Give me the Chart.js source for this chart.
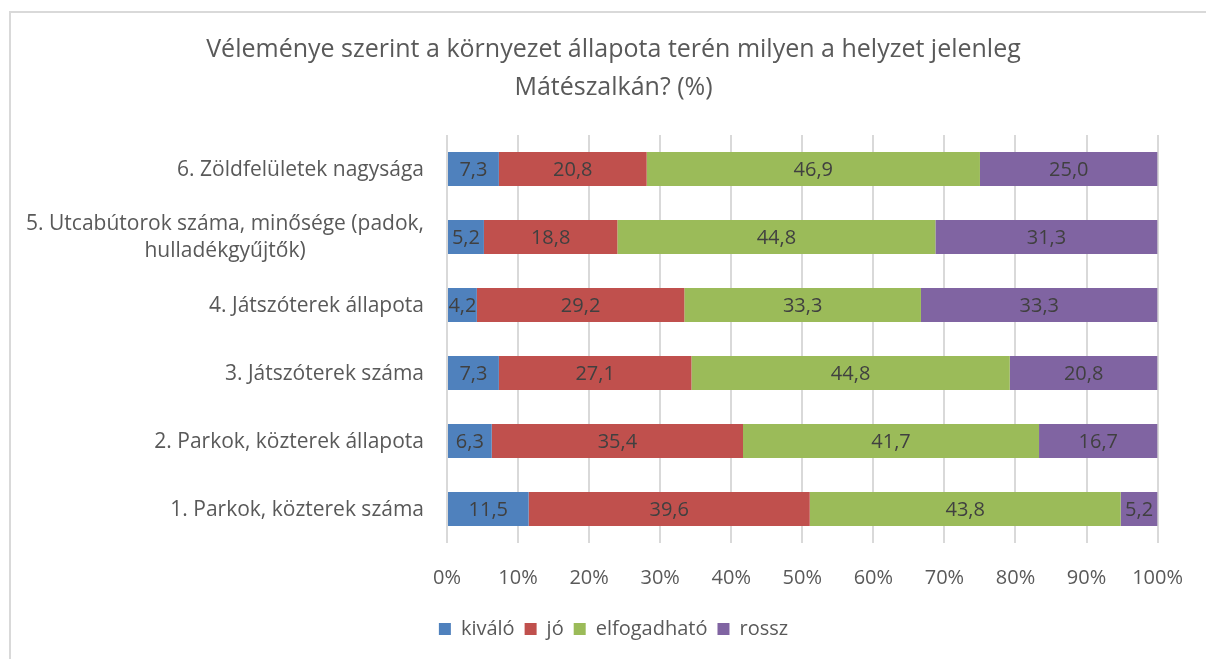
<!DOCTYPE html>
<html>
<head>
<meta charset="utf-8">
<script src="https://cdn.jsdelivr.net/npm/chart.js@4.4.0/dist/chart.umd.min.js"></script>
<style>
   html, body { margin: 0; padding: 0; background: #fff; }
   #wrap { position: relative; width: 1206px; height: 659px; overflow: hidden; }
   #frame { position: absolute; left: 9px; top: 11px; width: 1300px; height: 700px;
            border-top: 2px solid #d9d9d9; border-left: 2px solid #d9d9d9; }
   #chart { position: absolute; left: 0; top: 0; }
</style>
</head>
<body>
<div id="wrap">
   <div id="frame"></div>
   <canvas id="chart" width="1206" height="659"></canvas>
</div>
<script>
// kategóriák fentről lefelé
var categories = [
   '6. Zöldfelületek nagysága',
   ['5. Utcabútorok száma, minősége (padok,', 'hulladékgyűjtők)'],
   '4. Játszóterek állapota',
   '3. Játszóterek száma',
   '2. Parkok, közterek állapota',
   '1. Parkok, közterek száma'
];
var kivalo = [7.3, 5.2, 4.2, 7.3, 6.3, 11.5];
var jo = [20.8, 18.8, 29.2, 27.1, 35.4, 39.6];
var elfogadhato = [46.9, 44.8, 33.3, 44.8, 41.7, 43.8];
var rossz = [25.0, 31.3, 33.3, 20.8, 16.7, 5.2];
var seriesNames = ['kiváló', 'jó', 'elfogadható', 'rossz'];
var seriesColors = ['#4F81BD', '#C0504D', '#9BBB59', '#8064A2'];
var xTicks = [0, 10, 20, 30, 40, 50, 60, 70, 80, 90, 100];

const FONT = "'Open Sans', sans-serif";
const TEXT = '#595959';

var raw = [kivalo, jo, elfogadhato, rossz];
// 100%-os halmozás: soronként normalizálva
var totals = categories.map(function(c, i) {
   return raw.reduce(function(s, arr) { return s + arr[i]; }, 0);
});

var datasets = raw.map(function(arr, k) {
   return {
      label: seriesNames[k],
      data: arr.map(function(v, i) { return v / totals[i] * 100; }),
      rawValues: arr,
      backgroundColor: seriesColors[k],
      borderWidth: 0,
      barPercentage: 1,
      categoryPercentage: 0.5
   };
});

// értékcímkék a szegmensek közepén
const valueLabels = {
   id: 'valueLabels',
   afterDatasetsDraw(chart) {
      const c = chart.ctx;
      c.save();
      c.font = '20px ' + FONT;
      c.fillStyle = '#404040';
      c.textAlign = 'center';
      c.textBaseline = 'middle';
      chart.data.datasets.forEach(function(ds, k) {
         chart.getDatasetMeta(k).data.forEach(function(bar, i) {
            var txt = ds.rawValues[i].toFixed(1).replace('.', ',');
            c.fillText(txt, (bar.x + bar.base) / 2, bar.y + 1);
         });
      });
      c.restore();
   }
};

// kategória feliratok: blokk jobbra igazítva, sorok egymáshoz középre
const categoryLabels = {
   id: 'categoryLabels',
   afterDraw(chart) {
      const c = chart.ctx;
      const yScale = chart.scales.y;
      const right = 424;
      const lh = 27;
      c.save();
      c.font = '21px ' + FONT;
      c.fillStyle = TEXT;
      c.textAlign = 'center';
      c.textBaseline = 'middle';
      categories.forEach(function(lab, i) {
         var lines = Array.isArray(lab) ? lab : [lab];
         var maxW = Math.max.apply(null, lines.map(function(l) { return c.measureText(l).width; }));
         var cx = right - maxW / 2;
         var y0 = yScale.getPixelForValue(i) - (lines.length - 1) * lh / 2;
         lines.forEach(function(l, j) {
            c.fillText(l, cx, y0 + j * lh + 1);
         });
      });
      c.restore();
   }
};

const ctx = document.getElementById('chart');

new Chart(ctx, {
   type: 'bar',
   data: {
      labels: categories,
      datasets: datasets
   },
   options: {
      indexAxis: 'y',
      responsive: false,
      animation: false,
      layout: {
         padding: { left: 64, right: 43, top: 11, bottom: 10 }
      },
      scales: {
         x: {
            stacked: true,
            min: 0,
            max: 100,
            afterBuildTicks: function(scale) {
               scale.ticks = xTicks.map(function(v) { return { value: v }; });
            },
            afterFit: function(scale) {
               scale.height = 66;
            },
            grid: { color: '#d9d9d9', lineWidth: 2, drawTicks: false },
            border: { display: false },
            ticks: {
               padding: 23,
               color: TEXT,
               font: { family: FONT, size: 20 },
               callback: function(v) { return v + '%'; }
            }
         },
         y: {
            stacked: true,
            ticks: { display: false },
            grid: { display: false, drawTicks: false },
            border: { display: false },
            afterFit: function(scale) {
               scale.width = 383;
            }
         }
      },
      plugins: {
         title: {
            display: true,
            text: ['Véleménye szerint a környezet állapota terén milyen a helyzet jelenleg', 'Mátészalkán? (%)'],
            color: TEXT,
            font: { family: FONT, size: 25, weight: 'normal', lineHeight: '38px' },
            padding: { top: 20, bottom: 28 }
         },
         legend: {
            position: 'bottom',
            labels: {
               color: TEXT,
               font: { family: FONT, size: 20 },
               boxWidth: 12,
               boxHeight: 12,
               padding: 10
            }
         },
         tooltip: { enabled: false }
      }
   },
   plugins: [valueLabels, categoryLabels]
});
</script>
</body>
</html>
